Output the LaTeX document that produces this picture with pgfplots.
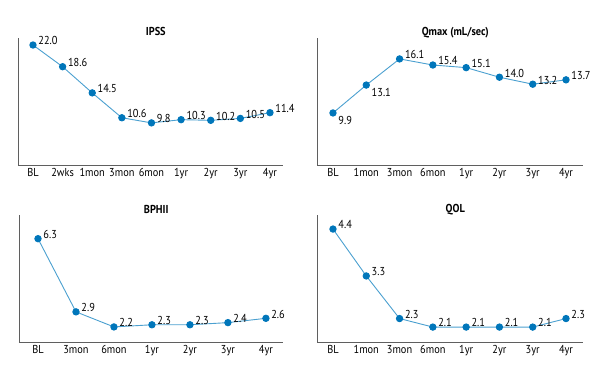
\documentclass[border=0pt]{standalone}
\usepackage{fontspec}
\setmainfont[FakeStretch=0.9]{PT Sans}
\usepackage{pgfplots}
\pgfplotsset{compat=1.18}
\definecolor{lineblue}{RGB}{75,160,208}
\definecolor{markblue}{RGB}{0,118,186}
\definecolor{axisgray}{RGB}{95,95,95}
\pgfplotsset{
  panel/.style={
    scale only axis,
    width=266pt, height=127pt,
    axis lines=left,
    axis line style={-, axisgray, line width=0.9pt},
    ytick=\empty,
    xtick=data,
    major tick length=0pt,
    tick label style={font=\fontsize{11.5}{13}\selectfont, text=black},
    xticklabel style={yshift=0pt},
    every axis title/.style={at={(0.52,1)}, anchor=base, yshift=2pt, font=\fontsize{11.5}{13}\selectfont\bfseries},
    clip=false,
    /pgf/number format/assume math mode=true,
    nodes near coords,
    point meta=explicit symbolic,
    every node near coord/.append style={font=\fontsize{11.5}{13}\selectfont, text=black, inner sep=1pt, xshift=4pt, yshift=-1.5pt},
  },
  ser/.style={color=lineblue, line width=0.9pt, mark=*, mark size=3.2pt,
    mark options={fill=markblue, draw=markblue}},
}
\begin{document}
\begin{tikzpicture}
\useasboundingbox (0pt,0pt) rectangle (605pt,366pt);
% IPSS
\begin{axis}[panel, at={(18pt,201pt)}, anchor=south west, width=265pt,
  xmin=-0.506, xmax=8.44, ymin=3.2, ymax=23.1,
  xticklabels={BL,2wks,1mon,3mon,6mon,1yr,2yr,3yr,4yr},
  title={IPSS}]
\addplot[ser, every node near coord/.append style={anchor=south west}] table[meta=lab] {
x y lab
0 22.0 22.0
1 18.6 18.6
2 14.5 14.5
3 10.6 10.6
4 9.8 9.8
5 10.3 10.3
6 10.2 10.2
7 10.5 10.5
8 11.4 11.4
};
\end{axis}
% Qmax
\begin{axis}[panel, at={(317pt,201pt)}, anchor=south west,
  xmin=-0.48, xmax=7.51, ymin=3.93, ymax=18.5,
  xticklabels={BL,1mon,3mon,6mon,1yr,2yr,3yr,4yr},
  title={Qmax (mL/sec)},
  visualization depends on={value \thisrow{anc}\as\myanchor},
  every node near coord/.append style={anchor=\myanchor}]
\addplot[ser] table[meta=lab] {
x y lab anc
0 9.9 9.9 {north west}
1 13.1 13.1 {north west}
2 16.1 16.1 {south west}
3 15.4 15.4 {south west}
4 15.1 15.1 {south west}
5 14.0 14.0 {south west}
6 13.2 13.2 {south west}
7 13.7 13.7 {south west}
};
\end{axis}
% BPHII
\begin{axis}[panel, at={(19pt,24pt)}, anchor=south west, width=264pt,
  xmin=-0.5, xmax=6.45, ymin=1.5, ymax=7.4,
  xticklabels={BL,3mon,6mon,1yr,2yr,3yr,4yr},
  title={BPHII}]
\addplot[ser, every node near coord/.append style={anchor=south west}] table[meta=lab] {
x y lab
0 6.3 6.3
1 2.9 2.9
2 2.2 2.2
3 2.3 2.3
4 2.3 2.3
5 2.4 2.4
6 2.6 2.6
};
\end{axis}
% QOL
\begin{axis}[panel, at={(317pt,24pt)}, anchor=south west,
  xmin=-0.48, xmax=7.51, ymin=1.75, ymax=4.73,
  xticklabels={BL,1mon,3mon,6mon,1yr,2yr,3yr,4yr},
  title={QOL}]
\addplot[ser, every node near coord/.append style={anchor=south west}] table[meta=lab] {
x y lab
0 4.4 4.4
1 3.3 3.3
2 2.3 2.3
3 2.1 2.1
4 2.1 2.1
5 2.1 2.1
6 2.1 2.1
7 2.3 2.3
};
\end{axis}
\end{tikzpicture}
\end{document}
